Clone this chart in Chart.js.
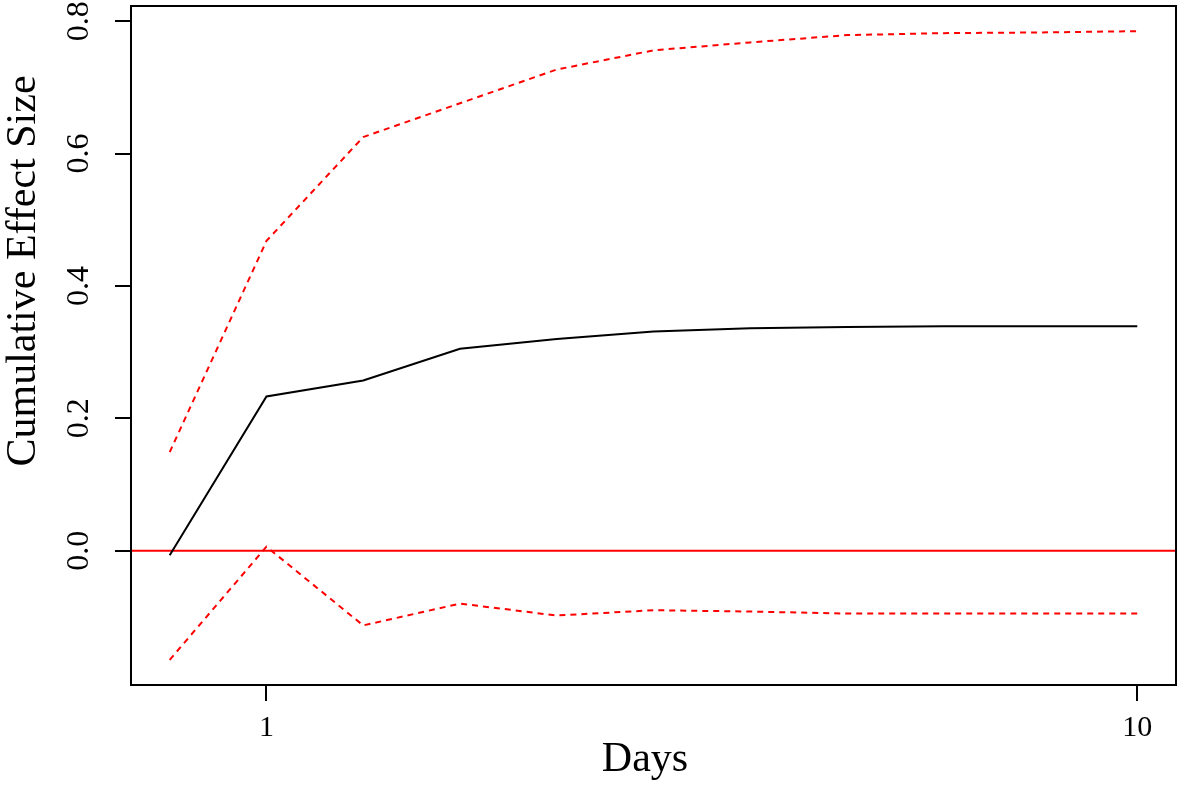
<!DOCTYPE html>
<html>
<head>
<meta charset="utf-8">
<script src="https://cdn.jsdelivr.net/npm/chart.js@4"></script>
<style>
  body { margin: 0; background: #fff; }
  canvas { display: block; }
</style>
</head>
<body>
<canvas id="chart" width="1179" height="786"></canvas>
<script>
// datos
const days = [0, 1, 2, 3, 4, 5, 6, 7, 8, 9, 10];
const effect = [-0.007, 0.233, 0.257, 0.305, 0.320, 0.331, 0.336, 0.338, 0.339, 0.339, 0.339];
const upper = [0.149, 0.468, 0.625, 0.676, 0.727, 0.756, 0.768, 0.779, 0.782, 0.783, 0.785];
const lower = [-0.165, 0.006, -0.113, -0.080, -0.098, -0.090, -0.092, -0.095, -0.095, -0.095, -0.095];

const xTicks = [1, 10];
const xTickLabels = ["1", "10"];
const yTicks = [0, 0.2, 0.4, 0.6, 0.8];
const yTickLabels = ["0.0", "0.2", "0.4", "0.6", "0.8"];
const refLine = 0;
const xTitle = "Days";
const yTitle = "Cumulative Effect Size";

const serif = "'Liberation Serif', 'Times New Roman', serif";

function pts(values) {
  return days.map((d, i) => ({ x: d, y: values[i] }));
}

// caja, linea del cero, etiquetas giradas del eje y y titulos
const rPlot = {
  id: "rPlot",
  beforeDatasetsDraw(chart) {
    const { ctx, chartArea: a, scales } = chart;
    const y0 = scales.y.getPixelForValue(refLine);
    ctx.save();
    ctx.strokeStyle = "#ff0000";
    ctx.lineWidth = 2;
    ctx.beginPath();
    ctx.moveTo(a.left, y0);
    ctx.lineTo(a.right, y0);
    ctx.stroke();
    ctx.restore();
  },
  afterDraw(chart) {
    const { ctx, chartArea: a, scales } = chart;
    ctx.save();
    ctx.strokeStyle = "#000";
    ctx.lineWidth = 2;
    ctx.strokeRect(a.left, a.top, a.right - a.left, a.bottom - a.top);

    ctx.fillStyle = "#000";
    ctx.font = "32px " + serif;
    ctx.textAlign = "center";
    ctx.textBaseline = "middle";
    yTicks.forEach((v, i) => {
      const py = scales.y.getPixelForValue(v);
      ctx.save();
      ctx.translate(80, py);
      ctx.rotate(-Math.PI / 2);
      ctx.fillText(yTickLabels[i], 0, 0);
      ctx.restore();
    });

    ctx.font = "42px " + serif;
    ctx.fillText(xTitle, 645, 760);
    ctx.save();
    ctx.translate(24, 271);
    ctx.rotate(-Math.PI / 2);
    ctx.fillText(yTitle, 0, 0);
    ctx.restore();
    ctx.restore();
  }
};

new Chart(document.getElementById("chart"), {
  type: "line",
  data: {
    datasets: [
      {
        label: "effect",
        data: pts(effect),
        borderColor: "#000000",
        borderWidth: 2,
        pointRadius: 0,
        tension: 0
      },
      {
        label: "upper",
        data: pts(upper),
        borderColor: "#ff0000",
        borderWidth: 2,
        borderDash: [6, 5],
        pointRadius: 0,
        tension: 0
      },
      {
        label: "lower",
        data: pts(lower),
        borderColor: "#ff0000",
        borderWidth: 2,
        borderDash: [6, 5],
        pointRadius: 0,
        tension: 0
      }
    ]
  },
  options: {
    responsive: false,
    animation: false,
    devicePixelRatio: 1,
    layout: { padding: { top: 6, right: 3, left: 0, bottom: 0 } },
    plugins: {
      legend: { display: false },
      tooltip: { enabled: false }
    },
    scales: {
      x: {
        type: "linear",
        min: -0.4,
        max: 10.4,
        afterBuildTicks(scale) {
          scale.ticks = xTicks.map(v => ({ value: v }));
        },
        afterFit(scale) { scale.height = 101; },
        border: { display: false },
        grid: {
          drawOnChartArea: false,
          drawTicks: true,
          tickLength: 16,
          color: "#000",
          lineWidth: 2
        },
        ticks: {
          color: "#000",
          padding: 9,
          maxRotation: 0,
          font: { family: serif, size: 30 },
          callback: (v) => xTickLabels[xTicks.indexOf(v)]
        }
      },
      y: {
        min: -0.203,
        max: 0.823,
        afterBuildTicks(scale) {
          scale.ticks = yTicks.map(v => ({ value: v }));
        },
        afterFit(scale) { scale.width = 131; },
        border: { display: false },
        grid: {
          drawOnChartArea: false,
          drawTicks: true,
          tickLength: 16,
          color: "#000",
          lineWidth: 2
        },
        ticks: { display: false }
      }
    }
  },
  plugins: [rPlot]
});
</script>
</body>
</html>
